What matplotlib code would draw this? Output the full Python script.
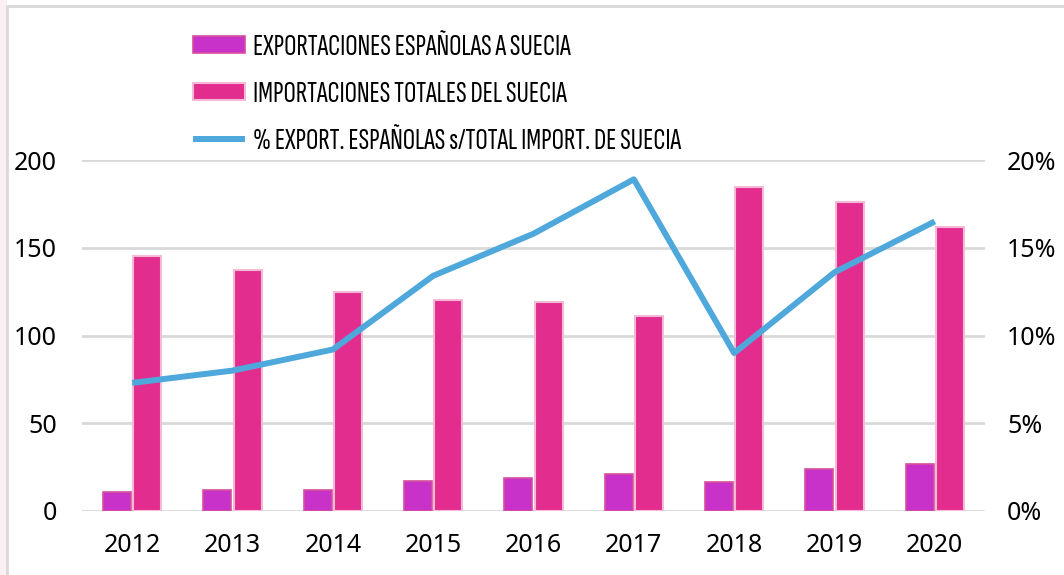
import numpy as np
import matplotlib.pyplot as plt
from matplotlib.patches import Rectangle

years = ['2012', '2013', '2014', '2015', '2016', '2017', '2018', '2019', '2020']
exports = [10.8, 12.0, 12.0, 17.0, 19.0, 21.0, 16.5, 24.0, 27.0]
imports = [145.5, 137.5, 125.0, 120.4, 119.0, 111.0, 184.5, 176.0, 162.0]
share_pct = [7.3, 8.0, 9.2, 13.4, 15.8, 18.9, 9.0, 13.6, 16.5]

plt.rcParams['font.family'] = ['Noto Sans', 'DejaVu Sans']

EXP_COLOR = '#C832C8'
IMP_COLOR = '#E32D8E'
LINE_COLOR = '#4EA8DC'
GRID = '#D9D9D9'

fig = plt.figure(figsize=(10.64, 5.75), dpi=100)
# faint pink strip and light grey frame around the chart area
fig.patches.append(Rectangle((0, 0), 7 / 1064, 1, transform=fig.transFigure,
                             facecolor='#FCEFF4', edgecolor='none', zorder=-6))
fig.patches.append(Rectangle((7 / 1064, -0.1), 1.2, 1 - 6 / 575 + 0.1, transform=fig.transFigure,
                             facecolor='white', edgecolor=GRID, linewidth=2, zorder=-5))
ax = fig.add_axes([82 / 1064, 1 - 511 / 575, (985 - 82) / 1064, (511 - 160) / 575])
ax2 = ax.twinx()

x = np.arange(len(years))
w = 0.28
ax.bar(x - 0.15, exports, w, color=EXP_COLOR, edgecolor='#D6509A', linewidth=1.2, zorder=3,
       label='EXPORTACIONES ESPAÑOLAS A SUECIA')
ax.bar(x + 0.15, imports, w, color=IMP_COLOR, edgecolor='#F4BAD6', linewidth=1.5, zorder=3,
       label='IMPORTACIONES TOTALES DEL SUECIA')
ax2.plot(x, share_pct, color=LINE_COLOR, linewidth=4.3, solid_capstyle='butt', zorder=4,
         label='% EXPORT. ESPAÑOLAS s/TOTAL IMPORT. DE SUECIA')

ax.set_xlim(-0.5, len(years) - 0.5)
ax.set_ylim(0, 200)
ax.set_yticks([0, 50, 100, 150, 200])
ax2.set_ylim(0, 20)
ax2.set_yticks([0, 5, 10, 15, 20])
ax2.set_yticklabels([f'{v}%' for v in [0, 5, 10, 15, 20]])
ax.set_xticks(x)
ax.set_xticklabels(years)

ax.grid(axis='y', color=GRID, linewidth=2, zorder=0)
for a in (ax, ax2):
    for s in a.spines.values():
        s.set_visible(False)
    a.tick_params(length=0, labelsize=18, colors='black')
ax.tick_params(axis='y', pad=18)
ax.tick_params(axis='x', pad=16)
ax2.tick_params(axis='y', pad=16)

h1, l1 = ax.get_legend_handles_labels()
h2, l2 = ax2.get_legend_handles_labels()
fig.legend(h1 + h2, l1 + l2, loc='upper left', bbox_to_anchor=(181 / 1064, 1 - 22 / 575),
           borderaxespad=0, frameon=False,
           prop={'family': 'Sofia Sans Extra Condensed', 'size': 22},
           handlelength=1.7, handleheight=0.49, handletextpad=0.26, labelspacing=0.65)

fig.savefig('out.png', dpi=100)
